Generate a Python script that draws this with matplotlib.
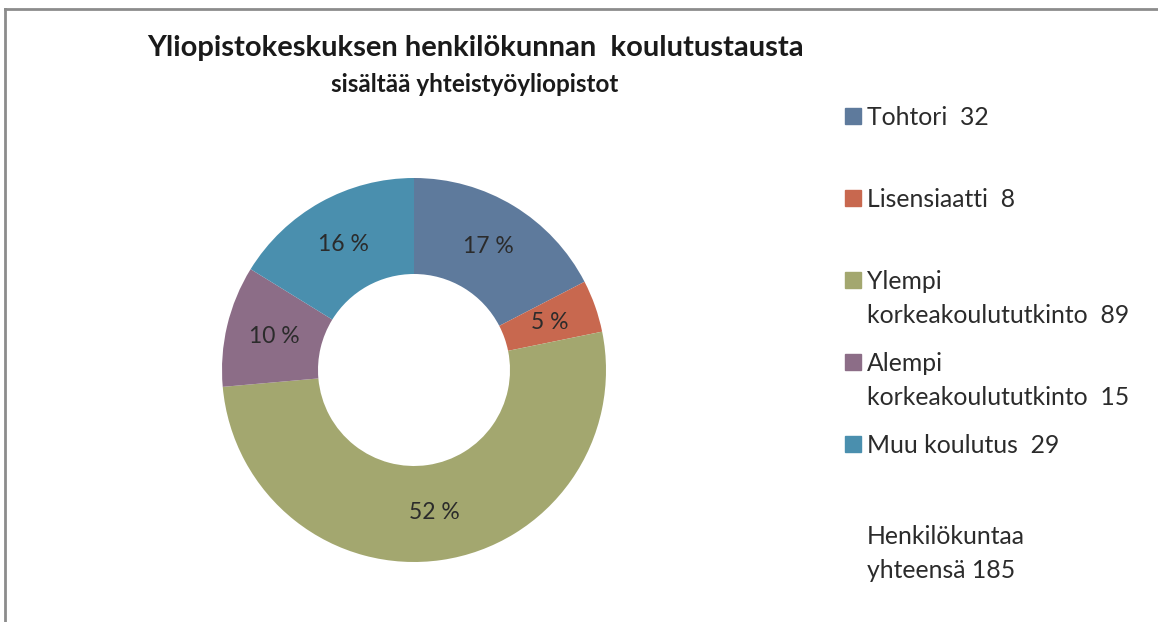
import matplotlib
matplotlib.use("Agg")
import matplotlib.pyplot as plt
from matplotlib.patches import Rectangle
from matplotlib.lines import Line2D
import numpy as np

categories = ["Tohtori", "Lisensiaatti", "Ylempi\nkorkeakoulututkinto",
              "Alempi\nkorkeakoulututkinto", "Muu koulutus"]
counts = [32, 8, 89, 15, 29]
shares = [17.4, 4.4, 51.8, 10.2, 16.2]
pct_labels = ["17 %", "5 %", "52 %", "10 %", "16 %"]
total = 185
colors = ["#5E7A9C", "#C8684F", "#A3A76F", "#8C6D87", "#4A8FAE"]

title = "Yliopistokeskuksen henkilökunnan  koulutustausta"
subtitle = "sisältää yhteistyöyliopistot"

W, H = 1158, 622
fig = plt.figure(figsize=(W / 100, H / 100), dpi=100)

body = ["Lato", "DejaVu Sans"]

# chart-area frame (top and left edges visible)
fig.add_artist(Line2D([5 / W, 1], [1 - 9 / H] * 2, color="#8c8c8c", lw=2))
fig.add_artist(Line2D([5 / W] * 2, [0, 1 - 9 / H], color="#8c8c8c", lw=2))

cx, cy, r = 414, 370, 192
ax = fig.add_axes([(cx - r) / W, (H - cy - r) / H, 2 * r / W, 2 * r / H])
wedges, _ = ax.pie(shares, colors=colors, startangle=90, counterclock=False,
                   radius=1.0, wedgeprops=dict(width=0.5, linewidth=0))
ax.set_xlim(-1, 1); ax.set_ylim(-1, 1)
ax.set_aspect("equal")
ax.axis("off")

for w, lab in zip(wedges, pct_labels):
    mid = np.deg2rad((w.theta1 + w.theta2) / 2)
    ax.text(0.75 * np.cos(mid), 0.75 * np.sin(mid), lab, ha="center",
            va="center", fontsize=16.5, color="#2b2b2b", family=body)

fig.text(475 / W, 1 - 48 / H, title, ha="center", va="center",
         fontsize=21, fontweight="bold", family=body, color="#1a1a1a")
fig.text(475 / W, 1 - 84 / H, subtitle, ha="center", va="center",
         fontsize=17.5, fontweight="bold", family=body, color="#1a1a1a")

# legend drawn by hand (uneven multi-line entries)
y0 = 116
for i, (cat, n, c) in enumerate(zip(categories, counts, colors)):
    y = y0 + 82 * i
    fig.add_artist(Rectangle((845 / W, 1 - (y + 8) / H), 16 / W, 16 / H,
                             color=c, transform=fig.transFigure))
    fig.text(867 / W, 1 - (y - 10) / H, f"{cat}  {n}", ha="left", va="top",
             fontsize=17.8, family=body, color="#2b2b2b", linespacing=1.6)

fig.text(867 / W, 1 - (535 - 10) / H, f"Henkilökuntaa\nyhteensä {total}",
         ha="left", va="top", fontsize=17.8, family=body, color="#2b2b2b",
         linespacing=1.6)

fig.savefig("out.png", dpi=100)
